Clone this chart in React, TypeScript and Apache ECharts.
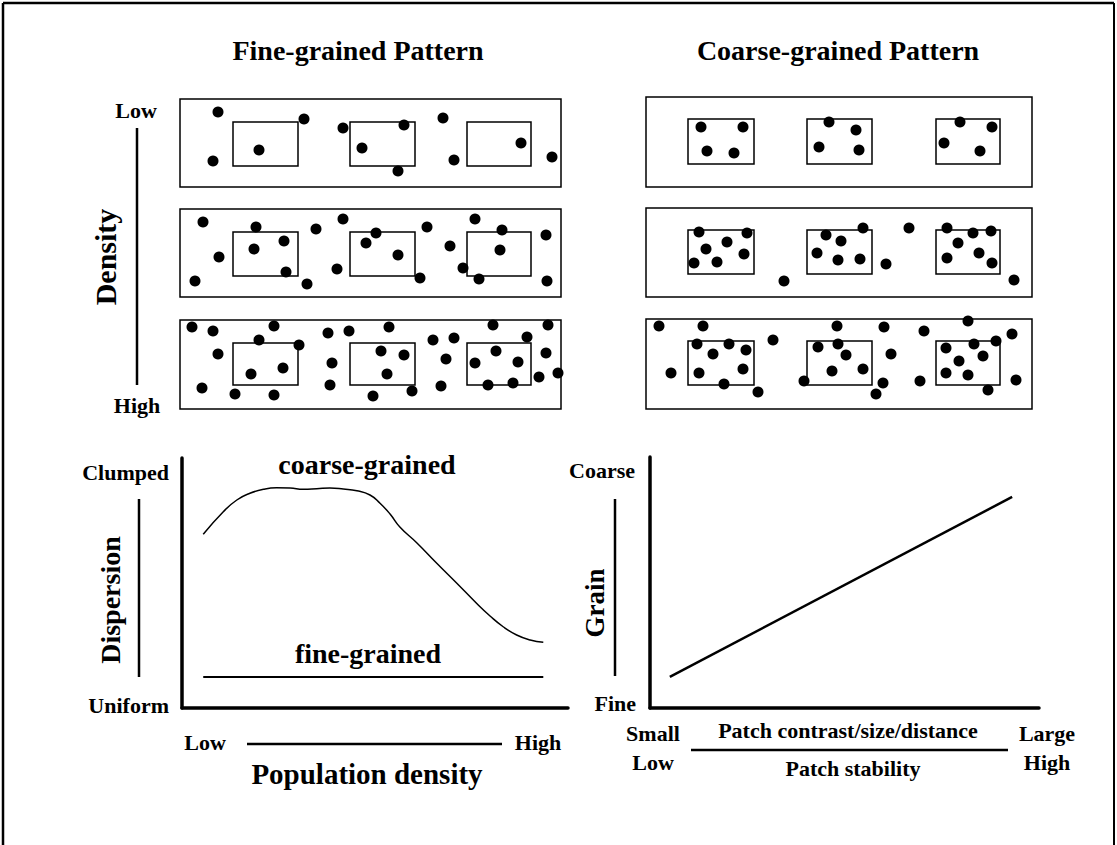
import React, { useEffect, useRef } from "react";
import * as echarts from "echarts";

// ---------- Data (figure coordinates of dots) ----------
const fineLowDots = [[218,112],[213,161],[259,150],[304,119],[343,128],[404,125],[362,148],[398,171],[443,118],[454,160],[521,143],[552,157]];
const fineMidDots = [[203,222],[256,227],[219,257],[195,281],[254,249],[284,241],[286,272],[307,284],[316,229],[343,219],[337,269],[376,233],[366,243],[398,255],[420,278],[427,227],[450,246],[475,219],[502,230],[500,250],[463,268],[479,279],[546,235],[547,281]];
const fineHighDots = [[192,327],[213,331],[274,326],[259,340],[299,345],[218,354],[251,374],[283,368],[202,388],[235,394],[274,395],[328,333],[349,331],[389,327],[332,363],[330,385],[381,351],[404,355],[387,374],[373,396],[412,391],[433,340],[454,338],[446,359],[441,386],[493,325],[548,325],[527,337],[496,351],[475,363],[518,362],[546,353],[488,385],[513,383],[539,377],[558,373]];
const coarseLowDots = [[701,127],[743,127],[707,151],[734,153],[829,122],[856,130],[819,147],[859,150],[960,122],[992,127],[944,143],[980,151]];
const coarseMidDots = [[699,232],[747,233],[727,242],[706,249],[744,254],[694,263],[717,262],[784,281],[863,228],[826,235],[841,241],[817,253],[838,260],[860,259],[886,264],[909,228],[947,228],[973,233],[991,231],[958,243],[979,253],[947,258],[992,263],[1014,280]];
const coarseHighDots = [[659,326],[703,326],[671,373],[697,344],[729,344],[746,350],[713,354],[699,373],[743,369],[724,384],[758,392],[773,340],[837,326],[884,327],[818,347],[838,344],[846,355],[832,371],[863,369],[804,381],[883,383],[876,394],[891,354],[924,331],[968,321],[1012,334],[996,341],[974,344],[946,348],[983,356],[959,361],[946,373],[968,375],[920,381],[988,390],[1016,380]];

// Patch (inner rectangle) extents
const finePatchX = [[233,298],[350,415],[467,531]];
const finePatchY = [[122,166],[232,276],[343,385]];
const coarsePatchX = [[688,754],[807,872],[936,1000]];
const coarsePatchY = [[119,164],[230,274],[341,385]];

// Panel frames
const finePanelX = [180, 561];
const finePanelY = [[99,187],[209,297],[320,409]];
const coarsePanelX = [646, 1032];
const coarsePanelY = [[97,187],[208,297],[319,409]];

// Dispersion vs population density (x: 0-100 low->high, y: 0-100 uniform->clumped)
const coarseCurve = [[5.5,69.5],[10.7,78.5],[14.2,83.2],[17.6,85.9],[21.1,87.5],[24.5,88.1],[28.0,88],[31.4,87.5],[34.9,87.7],[38.3,88],[41.8,87.6],[45.3,86.9],[48.7,85.2],[51.3,81.9],[53.9,77.6],[56.5,72.3],[60.8,66.1],[66.0,57.9],[71.2,49.9],[76.3,41.9],[79.8,36.8],[83.2,32.5],[86.7,29.2],[90.2,27.2],[93.6,26.3]];
const fineLine = [[5.5,12.4],[93.6,12.4]];

// Grain vs patch contrast/stability
const grainLine = [[5.1,12.4],[93.1,84.1]];

const FONT = '"Liberation Serif", "Times New Roman", serif';

export default function App() {
  const ref = useRef<HTMLDivElement>(null);

  useEffect(() => {
    if (!ref.current) return;
    const chart = echarts.init(ref.current, undefined, { renderer: "svg" });

    const panels = [
      { x: finePanelX, y: finePanelY[0], dots: fineLowDots, px: finePatchX, py: finePatchY[0] },
      { x: finePanelX, y: finePanelY[1], dots: fineMidDots, px: finePatchX, py: finePatchY[1] },
      { x: finePanelX, y: finePanelY[2], dots: fineHighDots, px: finePatchX, py: finePatchY[2] },
      { x: coarsePanelX, y: coarsePanelY[0], dots: coarseLowDots, px: coarsePatchX, py: coarsePatchY[0] },
      { x: coarsePanelX, y: coarsePanelY[1], dots: coarseMidDots, px: coarsePatchX, py: coarsePatchY[1] },
      { x: coarsePanelX, y: coarsePanelY[2], dots: coarseHighDots, px: coarsePatchX, py: coarsePatchY[2] },
    ];

    const grids: any[] = [];
    const xAxes: any[] = [];
    const yAxes: any[] = [];
    const series: any[] = [];

    panels.forEach((p, i) => {
      grids.push({
        left: p.x[0], top: p.y[0], width: p.x[1] - p.x[0], height: p.y[1] - p.y[0],
        show: true, borderColor: "#000", borderWidth: 1.5, backgroundColor: "transparent",
      });
      xAxes.push({ type: "value", gridIndex: i, min: p.x[0], max: p.x[1], show: false });
      yAxes.push({ type: "value", gridIndex: i, min: p.y[0], max: p.y[1], inverse: true, show: false });
      series.push({
        type: "scatter", xAxisIndex: i, yAxisIndex: i, data: p.dots, symbolSize: 11,
        itemStyle: { color: "#000", opacity: 1 }, clip: false, silent: true,
        markArea: {
          silent: true,
          label: { show: false },
          itemStyle: { color: "rgba(0,0,0,0)", borderColor: "#000", borderWidth: 1.5 },
          data: p.px.map(([x1, x2]) => [{ coord: [x1, p.py[0]] }, { coord: [x2, p.py[1]] }]),
        },
      });
    });

    const axisCommon = {
      type: "value", min: 0, max: 100,
      axisLine: { show: true, lineStyle: { color: "#000", width: 3.5 } },
      axisTick: { show: false }, axisLabel: { show: false }, splitLine: { show: false },
    };

    // Dispersion chart
    grids.push({ left: 182, top: 458, width: 386, height: 250 });
    xAxes.push({ ...axisCommon, gridIndex: 6 });
    yAxes.push({ ...axisCommon, gridIndex: 6 });
    series.push({
      type: "line", xAxisIndex: 6, yAxisIndex: 6, data: coarseCurve, smooth: 0.5,
      showSymbol: false, lineStyle: { color: "#000", width: 1.5 }, silent: true,
    });
    series.push({
      type: "line", xAxisIndex: 6, yAxisIndex: 6, data: fineLine,
      showSymbol: false, lineStyle: { color: "#000", width: 2 }, silent: true,
    });

    // Grain chart
    grids.push({ left: 650, top: 457, width: 389, height: 251 });
    xAxes.push({ ...axisCommon, gridIndex: 7 });
    yAxes.push({ ...axisCommon, gridIndex: 7 });
    series.push({
      type: "line", xAxisIndex: 7, yAxisIndex: 7, data: grainLine,
      showSymbol: false, lineStyle: { color: "#000", width: 2.5 }, silent: true,
    });

    const txt = (text: string, x: number, y: number, size: number, align = "center", rotation = 0) => ({
      type: "text", x, y, rotation, silent: true,
      style: {
        text, align, verticalAlign: "middle", fill: "#000",
        font: `bold ${size}px ${FONT}`,
      },
    });
    const ln = (x1: number, y1: number, x2: number, y2: number, w = 2.5) => ({
      type: "line", silent: true,
      shape: { x1, y1, x2, y2 },
      style: { stroke: "#000", lineWidth: w },
    });

    const graphic = [
      // frame
      ln(3, 3, 1114, 3, 2.5), ln(3, 3, 3, 845, 2.5), ln(1114, 3, 1114, 845, 2),
      // titles
      txt("Fine-grained Pattern", 358, 50, 28),
      txt("Coarse-grained Pattern", 838, 50, 28),
      // density axis label
      txt("Low", 136, 110, 22), txt("High", 137, 405, 22),
      txt("Density", 105, 257, 30, "center", Math.PI / 2),
      ln(137, 128, 137, 385),
      // dispersion chart labels
      txt("Clumped", 169, 472, 22, "right"), txt("Uniform", 169, 705, 22, "right"),
      txt("Dispersion", 110, 600, 28, "center", Math.PI / 2),
      ln(139, 499, 139, 677),
      txt("coarse-grained", 367, 464, 28), txt("fine-grained", 368, 653, 28),
      txt("Low", 205, 742, 22), txt("High", 538, 742, 22),
      ln(247, 744, 502, 744),
      txt("Population density", 367, 774, 29),
      // grain chart labels
      txt("Coarse", 635, 470, 22, "right"), txt("Fine", 636, 703, 22, "right"),
      txt("Grain", 595, 603, 27, "center", Math.PI / 2),
      ln(615, 499, 615, 676),
      txt("Small", 653, 733, 22), txt("Low", 653, 762, 22),
      txt("Large", 1047, 733, 22), txt("High", 1047, 762, 22),
      txt("Patch contrast/size/distance", 848, 730, 22),
      ln(691, 750, 1008, 750),
      txt("Patch stability", 853, 768, 22),
    ];

    chart.setOption({
      animation: false,
      backgroundColor: "#fff",
      grid: grids,
      xAxis: xAxes,
      yAxis: yAxes,
      series,
      graphic,
    });

    return () => chart.dispose();
  }, []);

  return (
    <div
      ref={ref}
      style={{ position: "absolute", left: 0, top: 0, width: 1117, height: 845, background: "#fff" }}
    />
  );
}
